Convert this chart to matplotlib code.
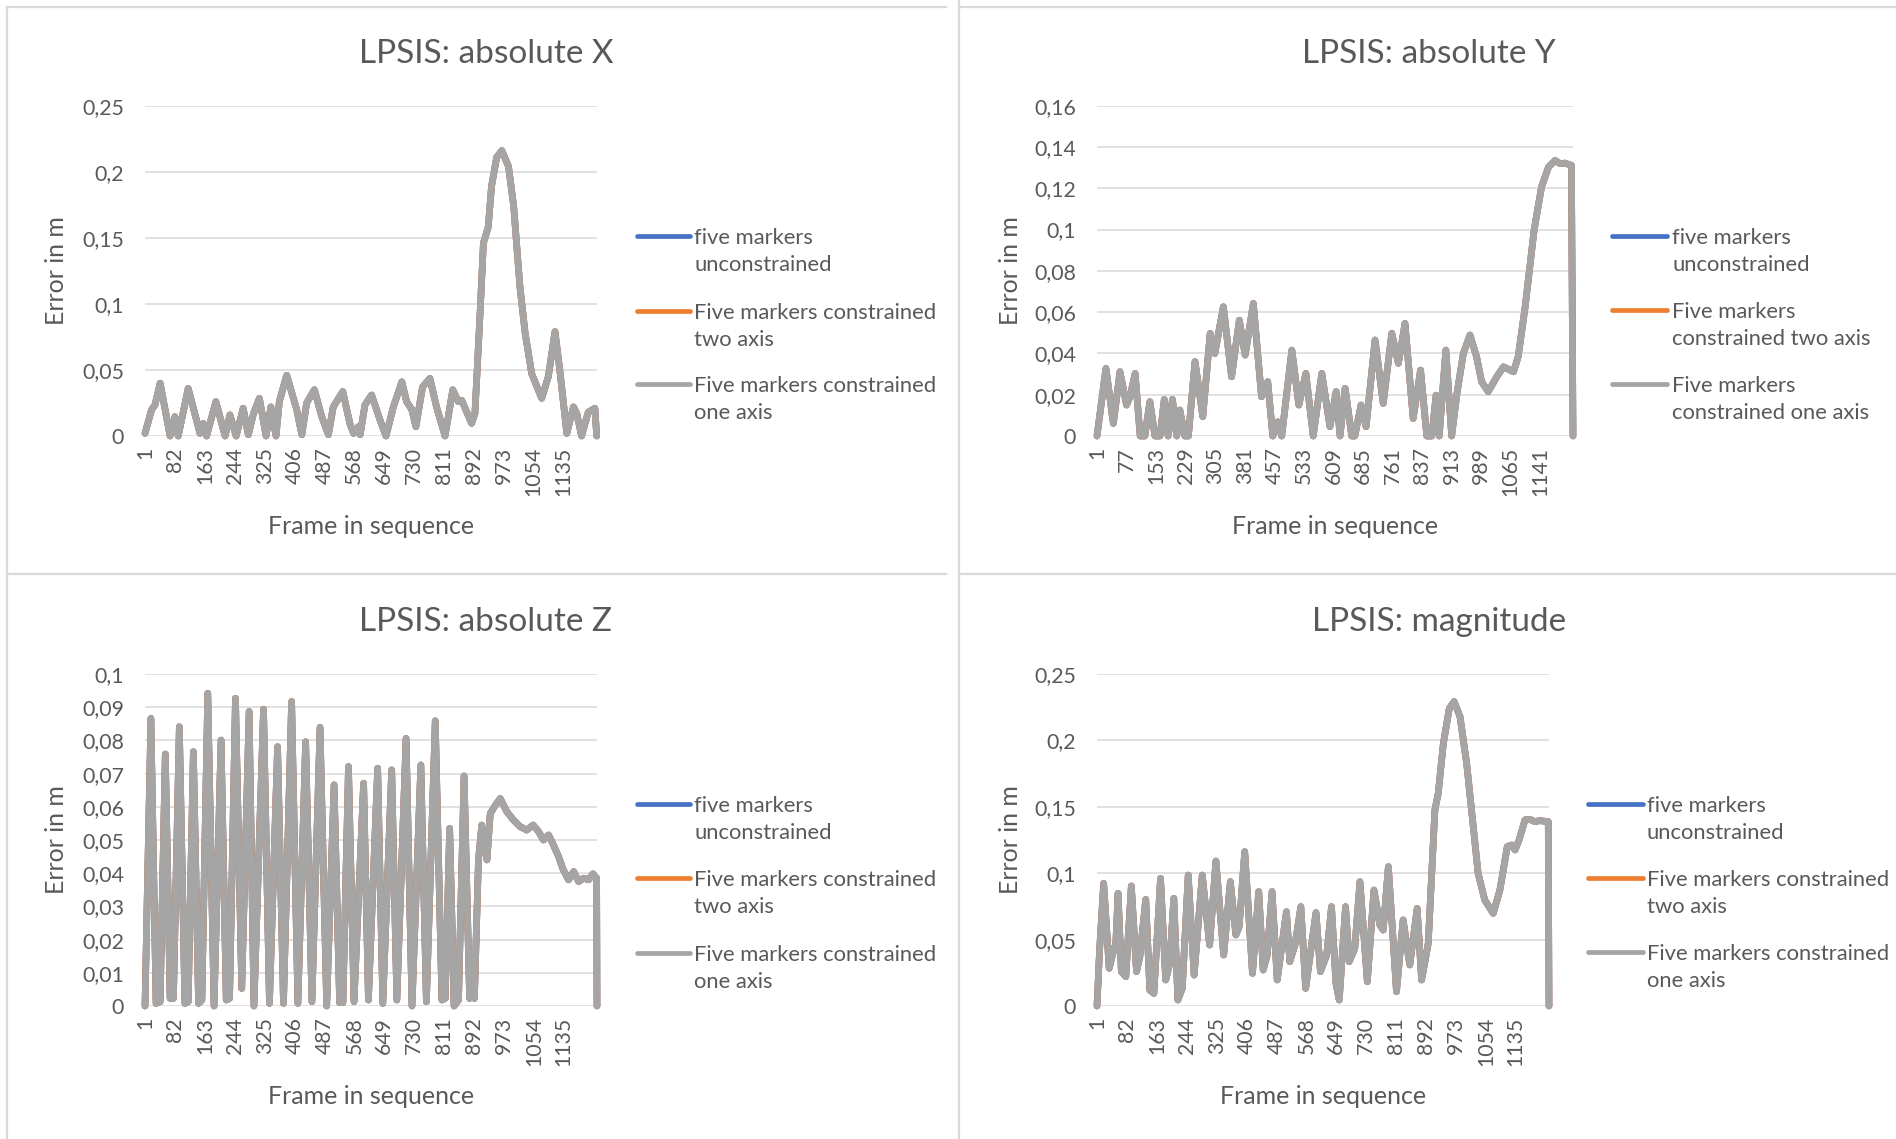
import numpy as np
import matplotlib
matplotlib.use("Agg")
import matplotlib.pyplot as plt
from matplotlib.lines import Line2D

W, H = 1896, 1139
TEXT = '#595959'
GRID = '#d9d9d9'

plt.rcParams['font.family'] = ['Lato', 'DejaVu Sans']

N_FRAMES = 1225

SERIES_COLORS = ['#4472c4', '#ed7d31', '#a5a5a5']

LEGEND_A = ['five markers\nunconstrained',
            'Five markers constrained\ntwo axis',
            'Five markers constrained\none axis']
LEGEND_B = ['five markers\nunconstrained',
            'Five markers\nconstrained two axis',
            'Five markers\nconstrained one axis']

# category labels shown on the frame axis
FRAME_LABELS_81 = [1, 82, 163, 244, 325, 406, 487, 568, 649, 730, 811, 892, 973, 1054, 1135]
FRAME_LABELS_76 = [1, 77, 153, 229, 305, 381, 457, 533, 609, 685, 761, 837, 913, 989, 1065, 1141]

# absolute X error (all three solutions overlap)
FRAMES_X = [1, 19, 28, 42, 69, 82, 91, 118, 150, 159, 168, 193, 218, 231, 248, 267, 281,
            295, 311, 329, 342, 356, 365, 385, 412, 426, 439, 460, 480, 498, 511, 537,
            556, 566, 579, 584, 597, 615, 638, 654, 674, 697, 710, 724, 735, 753, 773,
            791, 814, 835, 850, 859, 886, 895, 909, 918, 931, 940, 954, 968, 986, 1000,
            1017, 1031, 1049, 1076, 1094, 1112, 1125, 1144, 1162, 1171, 1184, 1202,
            1220, 1225]
ERR_X = [0.002, 0.020, 0.0235, 0.040, 0.0, 0.0146, 0.0, 0.036, 0.002, 0.0096, 0.0, 0.026,
         0.0, 0.016, 0.0, 0.021, 0.001, 0.017, 0.0285, 0.0, 0.022, 0.0, 0.026, 0.046,
         0.020, 0.001, 0.025, 0.035, 0.0146, 0.001, 0.022, 0.0336, 0.0096, 0.002, 0.007,
         0.001, 0.0235, 0.031, 0.012, 0.0, 0.022, 0.041, 0.026, 0.020, 0.007, 0.037,
         0.0436, 0.022, 0.0, 0.035, 0.026, 0.027, 0.0096, 0.017, 0.093, 0.146, 0.158,
         0.189, 0.211, 0.216, 0.204, 0.174, 0.113, 0.078, 0.047, 0.0285, 0.045, 0.079,
         0.050, 0.002, 0.022, 0.017, 0.0, 0.018, 0.021, 0.0]

# absolute Y error
FRAMES_Y = [1, 24, 43, 60, 77, 86, 99, 112, 124, 137, 150, 163, 174, 184, 195, 206, 214,
            227, 236, 253, 273, 292, 304, 326, 347, 367, 382, 403, 424, 440, 453, 466,
            476, 502, 520, 538, 557, 579, 600, 616, 626, 639, 656, 664, 680, 693, 716,
            737, 759, 776, 793, 814, 833, 849, 862, 873, 881, 898, 913, 926, 943, 960,
            977, 990, 1007, 1029, 1046, 1072, 1084, 1102, 1125, 1144, 1162, 1179, 1192,
            1204, 1221, 1225]
ERR_Y = [0.0, 0.0327, 0.0061, 0.0311, 0.015, 0.019, 0.0303, 0.0, 0.0, 0.0166, 0.0, 0.0,
         0.0177, 0.0, 0.0177, 0.0, 0.0126, 0.0, 0.0, 0.036, 0.0094, 0.0497, 0.040, 0.0626,
         0.0287, 0.0561, 0.0392, 0.0642, 0.019, 0.0263, 0.0, 0.0069, 0.0, 0.0416, 0.015,
         0.0303, 0.0, 0.0303, 0.0045, 0.0215, 0.0, 0.0231, 0.0, 0.0, 0.015, 0.0045,
         0.0465, 0.0158, 0.0497, 0.0352, 0.0545, 0.0085, 0.0319, 0.0, 0.0, 0.0198, 0.0,
         0.0416, 0.0, 0.0198, 0.040, 0.0489, 0.0384, 0.0263, 0.0215, 0.0287, 0.0335,
         0.0311, 0.0384, 0.0626, 0.0997, 0.1206, 0.1303, 0.1335, 0.1319, 0.1322, 0.1311,
         0.0]

# absolute Z error
FRAMES_Z = [1, 17, 31, 42, 56, 69, 78, 94, 109, 118, 132, 146, 155, 171, 188, 207, 221,
            230, 246, 263, 283, 296, 322, 338, 360, 376, 398, 415, 436, 453, 475, 493,
            513, 528, 537, 552, 567, 593, 606, 631, 645, 669, 683, 708, 724, 748, 763,
            787, 805, 814, 826, 838, 850, 865, 880, 886, 893, 904, 913, 918, 927, 936,
            950, 963, 981, 999, 1017, 1035, 1052, 1067, 1080, 1094, 1107, 1121, 1133,
            1148, 1162, 1175, 1189, 1202, 1214, 1224, 1225]
ERR_Z = [0.0, 0.0866, 0.0008, 0.0013, 0.0759, 0.0023, 0.0023, 0.0841, 0.0008, 0.0013,
         0.0766, 0.0008, 0.0018, 0.0942, 0.0, 0.0801, 0.0018, 0.0023, 0.0927, 0.0053,
         0.0887, 0.0, 0.0894, 0.0008, 0.0781, 0.0008, 0.0917, 0.0008, 0.0796, 0.0013,
         0.0839, 0.0, 0.0666, 0.001, 0.001, 0.0721, 0.0013, 0.0671, 0.0018, 0.0716,
         0.0008, 0.0711, 0.0018, 0.0806, 0.0, 0.0726, 0.0013, 0.0859, 0.0018, 0.0023,
         0.0535, 0.0, 0.0018, 0.0693, 0.0023, 0.0159, 0.0023, 0.044, 0.0545, 0.050,
         0.044, 0.058, 0.0605, 0.0625, 0.0585, 0.056, 0.054, 0.053, 0.0545, 0.0525,
         0.050, 0.0515, 0.0485, 0.045, 0.0412, 0.038, 0.0405, 0.0375, 0.0385, 0.038,
         0.0398, 0.0385, 0.0]

# error magnitude
FRAMES_M = [1, 8, 19, 34, 44, 52, 58, 67, 79, 94, 108, 117, 133, 144, 155, 173, 187, 198,
            209, 220, 232, 248, 264, 286, 306, 323, 344, 362, 377, 386, 401, 422, 439,
            451, 462, 475, 489, 514, 523, 537, 553, 566, 594, 606, 623, 636, 648, 657,
            674, 684, 699, 713, 733, 751, 767, 776, 790, 812, 830, 848, 868, 880, 898,
            916, 925, 939, 955, 968, 984, 1002, 1020, 1033, 1051, 1074, 1092, 1112, 1124,
            1133, 1144, 1160, 1173, 1187, 1200, 1223, 1225]
ERR_M = [0.0, 0.042, 0.0924, 0.0284, 0.0397, 0.0472, 0.0848, 0.0259, 0.0221, 0.0904,
         0.0259, 0.0371, 0.0803, 0.012, 0.0095, 0.0961, 0.0196, 0.0321, 0.0811, 0.0045,
         0.0133, 0.0986, 0.0233, 0.0986, 0.0459, 0.1092, 0.0384, 0.0936, 0.0535, 0.0597,
         0.1162, 0.0246, 0.0861, 0.0271, 0.0384, 0.0861, 0.0196, 0.071, 0.0334, 0.0459,
         0.0748, 0.0133, 0.0703, 0.0259, 0.0384, 0.0748, 0.0171, 0.0045, 0.0748, 0.0334,
         0.0434, 0.0936, 0.0183, 0.0873, 0.061, 0.0572, 0.1049, 0.0108, 0.0648, 0.0309,
         0.0735, 0.0196, 0.0472, 0.1476, 0.1601, 0.1978, 0.2241, 0.2292, 0.2179, 0.1827,
         0.135, 0.0999, 0.0798, 0.0698, 0.0873, 0.12, 0.1212, 0.1175, 0.125, 0.1401,
         0.1406, 0.1388, 0.1396, 0.1388, 0.0]


def fx(x):
    return x / W


def fy(y):
    return 1 - y / H


def fmt(v):
    return ('%g' % round(v, 3)).replace('.', ',')


panels = [
    dict(title='LPSIS: absolute X', frames=FRAMES_X, err=ERR_X, ymax=0.25, ystep=0.05,
         box=(145, 596.7, 105.7, 436), xlabels=FRAME_LABELS_81, title_xy=(486, 54),
         ylab_x=57, xlab_y=527, legend=LEGEND_A, leg_x=(637, 690, 694), leg_y=(236, 311, 384)),
    dict(title='LPSIS: absolute Y', frames=FRAMES_Y, err=ERR_Y, ymax=0.16, ystep=0.02,
         box=(1097, 1573, 105.7, 436), xlabels=FRAME_LABELS_76, title_xy=(1429, 54),
         ylab_x=1011, xlab_y=527, legend=LEGEND_B, leg_x=(1612, 1667, 1672), leg_y=(236, 310, 384)),
    dict(title='LPSIS: absolute Z', frames=FRAMES_Z, err=ERR_Z, ymax=0.1, ystep=0.01,
         box=(145, 597, 674, 1006), xlabels=FRAME_LABELS_81, title_xy=(486, 622),
         ylab_x=57, xlab_y=1096, legend=LEGEND_A, leg_x=(637, 690, 694), leg_y=(804, 878, 953)),
    dict(title='LPSIS: magnitude', frames=FRAMES_M, err=ERR_M, ymax=0.25, ystep=0.05,
         box=(1097, 1549, 674, 1006), xlabels=FRAME_LABELS_81, title_xy=(1439, 622),
         ylab_x=1011, xlab_y=1096, legend=LEGEND_A, leg_x=(1588, 1643, 1647), leg_y=(804, 878, 952)),
]

fig = plt.figure(figsize=(W / 100, H / 100), dpi=100)
fig.patch.set_facecolor('white')

# chart frames
for xs, ys in [((7, 946), (7, 7)), ((960, W), (7, 7)),
               ((7, 946), (574, 574)), ((960, W), (574, 574)),
               ((7, 7), (7, H)), ((959, 959), (0, H))]:
    fig.add_artist(Line2D([fx(xs[0]), fx(xs[1])], [fy(ys[0]), fy(ys[1])],
                          color=GRID, lw=1.6))

for p in panels:
    left, right, top, bottom = p['box']
    ax = fig.add_axes([fx(left), fy(bottom), (right - left) / W, (bottom - top) / H])

    # three solutions, drawn in order so the last one ends up on top
    for i, color in enumerate(SERIES_COLORS):
        ax.plot(p['frames'], p['err'], color=color, lw=4.8,
                solid_joinstyle='round', solid_capstyle='round', clip_on=False,
                zorder=3 + i)

    ax.set_xlim(1, N_FRAMES)
    ax.set_ylim(0, p['ymax'])
    yt = np.arange(0, p['ymax'] + p['ystep'] / 2, p['ystep'])
    ax.set_yticks(yt)
    ax.set_yticklabels([fmt(v) for v in yt])
    ax.set_xticks(p['xlabels'])
    ax.set_xticklabels([str(v) for v in p['xlabels']], rotation=90)

    ax.grid(axis='y', color=GRID, lw=1.1)
    ax.set_axisbelow(True)
    for s in ax.spines.values():
        s.set_visible(False)
    ax.tick_params(axis='y', length=0, pad=15, labelsize=15.3, labelcolor=TEXT)
    ax.tick_params(axis='x', length=0, pad=8, labelsize=15.3, labelcolor=TEXT)

    ax.set_ylabel('Error in m', fontsize=18, color=TEXT, va='center')
    ax.yaxis.set_label_coords((p['ylab_x'] - left) / (right - left), 0.5)
    ax.set_xlabel('Frame in sequence', fontsize=18, color=TEXT, va='center')
    ax.xaxis.set_label_coords(0.5, (bottom - p['xlab_y']) / (bottom - top))

    fig.text(fx(p['title_xy'][0]), fy(p['title_xy'][1]), p['title'], fontsize=24,
             color=TEXT, ha='center', va='center')

    x0, x1, xt = p['leg_x']
    for label, color, ly in zip(p['legend'], SERIES_COLORS, p['leg_y']):
        fig.add_artist(Line2D([fx(x0), fx(x1)], [fy(ly), fy(ly)], color=color,
                              lw=3.4, solid_capstyle='round'))
        fig.text(fx(xt), fy(ly + 10), label, fontsize=15.8, color=TEXT, ha='left',
                 va='center_baseline', linespacing=1.43)

fig.savefig('out.png', dpi=100, facecolor='white')
